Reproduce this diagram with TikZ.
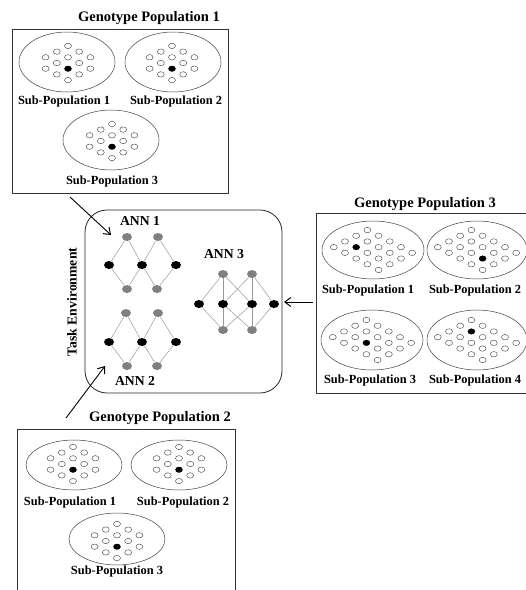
\documentclass[tikz,border=0pt]{standalone}
\usepackage{fontspec}
\setmainfont{Liberation Serif}
\usetikzlibrary{arrows.meta,shapes.geometric}
\newcommand\patA[2]{%
  \foreach \i/\j in {0/-4,-1/-3,1/-3,-2/-2,0/-2,2/-2,-1/-1,1/-1,-2/0,0/0,2/0,-1/1,1/1,0/2}{%
    \draw[dotline] (#1+\i*11.2, #2+\j*5.7+5.7) ellipse[x radius=3.5pt, y radius=2.7pt];}
  \fill[black] (#1, #2+5.7) ellipse[x radius=3.6pt, y radius=2.9pt];}
\newcommand\patB[4]{%
  \foreach \a in {0,...,3}{\foreach \b in {0,...,4}{%
    \draw[dotline] (#1+\b*11.2-\a*11.2-5.6, #2+\a*5.7+\b*5.7-19.95) ellipse[x radius=3.5pt, y radius=2.7pt];}}
  \fill[black] (#1+#3*11.2-5.6, #2+#4*5.7-2.85) ellipse[x radius=3.6pt, y radius=2.9pt];}
\begin{document}
\begin{tikzpicture}[x=1pt,y=-1pt,
  boxline/.style={draw=black!85, line width=0.8pt},
  popbox/.style={draw=black!80, line width=0.8pt, inner sep=0pt},
  subell/.style={draw=black!75, line width=0.5pt},
  dotline/.style={draw=black!70, line width=0.45pt},
  title/.style={font=\fontsize{14.5}{16}\selectfont\bfseries, inner sep=0pt},
  sublabel/.style={font=\fontsize{12.4}{14}\selectfont\bfseries, inner sep=0pt},
  annlabel/.style={font=\fontsize{13.7}{15}\selectfont\bfseries, inner sep=0pt},
  gnode/.style={ellipse, fill=black!50, minimum width=10pt, minimum height=8pt, inner sep=0pt},
  bnode/.style={ellipse, fill=black, minimum width=10pt, minimum height=8pt, inner sep=0pt},
  link/.style={draw=black!40, line width=0.5pt},
  arr/.style={-{Straight Barb[length=6pt,width=9pt,line width=1pt]}, line width=0.9pt}]
\useasboundingbox (0,0) rectangle (526,590);
\clip (0,0) rectangle (526,590);

% ---------- Genotype Population 1 ----------
\node[title] (t1) at (149,18) {Genotype Population 1};
\node[popbox, minimum width=216pt, minimum height=164pt] (pop1) at (120,111) {};
\draw[subell] (67,62) ellipse[x radius=48pt, y radius=30pt];
\draw[subell] (173,62) ellipse[x radius=48pt, y radius=30pt];
\draw[subell] (111,140) ellipse[x radius=48pt, y radius=30pt];
\patA{68}{63}
\patA{172}{63}
\patA{112}{141}
\node[sublabel] (s11) at (64,102) {Sub-Population 1};
\node[sublabel] (s12) at (176,102) {Sub-Population 2};
\node[sublabel] (s13) at (112,182) {Sub-Population 3};

% ---------- Genotype Population 2 ----------
\node[title] (t2) at (160,418) {Genotype Population 2};
\node[popbox, minimum width=218pt, minimum height=200pt] (pop2) at (126,529) {};
\draw[subell] (74,465) ellipse[x radius=48pt, y radius=25pt];
\draw[subell] (179,465) ellipse[x radius=48pt, y radius=25pt];
\draw[subell] (117,539) ellipse[x radius=48pt, y radius=26pt];
\patA{73}{464}
\patA{179}{464}
\patA{117}{541}
\node[sublabel] (s21) at (70,503) {Sub-Population 1};
\node[sublabel] (s22) at (183,503) {Sub-Population 2};
\node[sublabel] (s23) at (117,572) {Sub-Population 3};

% ---------- Genotype Population 3 ----------
\node[title] (t3) at (425,204) {Genotype Population 3};
\node[popbox, minimum width=220pt, minimum height=180pt] (pop3) at (426,303) {};
\draw[subell] (373,250) ellipse[x radius=51pt, y radius=29pt];
\draw[subell] (477,250) ellipse[x radius=50pt, y radius=29pt];
\draw[subell] (372,340) ellipse[x radius=51pt, y radius=30pt];
\draw[subell] (477,340) ellipse[x radius=50pt, y radius=30pt];
\patB{373}{250}{-1}{0}
\patB{477}{250}{1}{2}
\patB{372}{340}{0}{1}
\patB{477}{340}{0}{-1}
\node[sublabel] (s31) at (368,291) {Sub-Population 1};
\node[sublabel] (s32) at (475,291) {Sub-Population 2};
\node[sublabel] (s33) at (370,381) {Sub-Population 3};
\node[sublabel] (s34) at (475,381) {Sub-Population 4};

% ---------- Task Environment ----------
\draw[boxline, rounded corners=22pt] (85,210) rectangle (282,393);
\node[annlabel, rotate=90] (te) at (72,302) {Task Environment};

% ANN 1
\node[annlabel] (l1) at (140,221) {ANN 1};
\node[gnode] (a1t1) at (127,237) {};
\node[gnode] (a1t2) at (158,237) {};
\node[bnode] (a1b1) at (109,265) {};
\node[bnode] (a1b2) at (142,265) {};
\node[bnode] (a1b3) at (176,265) {};
\node[gnode] (a1d1) at (127,289) {};
\node[gnode] (a1d2) at (157,289) {};
\foreach \g/\b in {a1t1/a1b1,a1t1/a1b2,a1t2/a1b2,a1t2/a1b3,a1d1/a1b1,a1d1/a1b2,a1d2/a1b2,a1d2/a1b3}
  \draw[link] (\g) -- (\b);

% ANN 2
\node[annlabel] (l2) at (135,381) {ANN 2};
\node[gnode] (a2t1) at (126,313) {};
\node[gnode] (a2t2) at (158,313) {};
\node[bnode] (a2b1) at (109,342) {};
\node[bnode] (a2b2) at (142,342) {};
\node[bnode] (a2b3) at (176,342) {};
\node[gnode] (a2d1) at (127,366) {};
\node[gnode] (a2d2) at (157,366) {};
\foreach \g/\b in {a2t1/a2b1,a2t1/a2b2,a2t2/a2b2,a2t2/a2b3,a2d1/a2b1,a2d1/a2b2,a2d2/a2b2,a2d2/a2b3}
  \draw[link] (\g) -- (\b);

% ANN 3
\node[annlabel] (l3) at (224,254) {ANN 3};
\node[gnode] (a3t1) at (223,274) {};
\node[gnode] (a3t2) at (252,274) {};
\node[bnode] (a3b1) at (199,304) {};
\node[bnode] (a3b2) at (223,304) {};
\node[bnode] (a3b3) at (252,304) {};
\node[bnode] (a3b4) at (274,304) {};
\node[gnode] (a3d1) at (223,330) {};
\node[gnode] (a3d2) at (252,330) {};
\foreach \g/\b in {a3t1/a3b1,a3t1/a3b2,a3t1/a3b3,a3t2/a3b2,a3t2/a3b3,a3t2/a3b4,
                   a3d1/a3b1,a3d1/a3b2,a3d1/a3b3,a3d2/a3b2,a3d2/a3b3,a3d2/a3b4}
  \draw[link] (\g) -- (\b);

% ---------- Arrows ----------
\coordinate (p1s) at (70,197);
\coordinate (p1e) at (111,235);
\coordinate (p2s) at (66,418);
\coordinate (p2e) at (105,366);
\coordinate (p3s) at (313,302);
\coordinate (p3e) at (284,302);
\draw[arr] (p1s) -- (p1e);
\draw[arr] (p2s) -- (p2e);
\draw[arr] (p3s) -- (p3e);
\end{tikzpicture}
\end{document}
